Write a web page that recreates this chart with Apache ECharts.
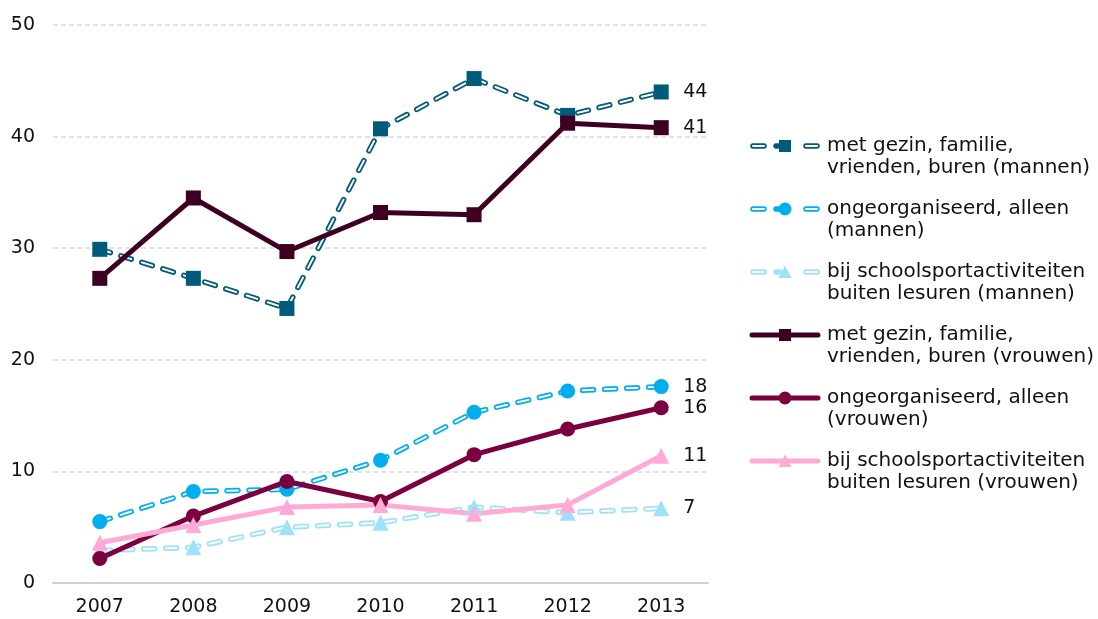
<!DOCTYPE html>
<html>
<head>
<meta charset="utf-8">
<script src="https://cdn.jsdelivr.net/npm/echarts@6/dist/echarts.min.js"></script>
<style>html,body{margin:0;padding:0;background:#fff}#c{width:1098px;height:619px}</style>
</head>
<body>
<div id="c"></div>
<script>
var years = ['2007','2008','2009','2010','2011','2012','2013'];
var yTicks = [0, 10, 20, 30, 40, 50];
var names = [
  'met gezin, familie,\nvrienden, buren (mannen)',
  'ongeorganiseerd, alleen\n(mannen)',
  'bij schoolsportactiviteiten\nbuiten lesuren (mannen)',
  'met gezin, familie,\nvrienden, buren (vrouwen)',
  'ongeorganiseerd, alleen\n(vrouwen)',
  'bij schoolsportactiviteiten\nbuiten lesuren (vrouwen)'
];
var gezinMannen   = [29.9, 27.3, 24.6, 40.7, 45.2, 41.9, 44.0];
var alleenMannen  = [5.5, 8.2, 8.4, 11.0, 15.3, 17.2, 17.6];
var schoolMannen  = [2.9, 3.2, 5.0, 5.4, 6.8, 6.3, 6.7];
var gezinVrouwen  = [27.3, 34.5, 29.7, 33.2, 33.0, 41.2, 40.8];
var alleenVrouwen = [2.2, 6.0, 9.1, 7.3, 11.5, 13.8, 15.7];
var schoolVrouwen = [3.6, 5.2, 6.8, 7.0, 6.2, 7.0, 11.4];

var colors = ['#005a7a', '#00aeef', '#9ee1fb', '#3d0022', '#7a003f', '#ffaad6'];
var symbols = ['rect', 'circle', 'triangle', 'rect', 'circle', 'triangle'];
var sizes = [15, 15, 16, 15, 15, 16];
var dataSets = [gezinMannen, alleenMannen, schoolMannen, gezinVrouwen, alleenVrouwen, schoolVrouwen];

var FONT = 'DejaVu Sans';
var DASH = [11, 11];
var endLabel = {
  show: true,
  distance: 22,
  fontFamily: FONT,
  fontSize: 19,
  color: '#111',
  formatter: function (p) { return String(Math.round(p.value)); }
};

function markerSvg(color, sym) {
  if (sym === 'rect') return '<rect x="30" y="2" width="12" height="12" fill="' + color + '"/>';
  if (sym === 'circle') return '<circle cx="36" cy="8" r="6.5" fill="' + color + '"/>';
  return '<polygon points="36,1.5 42.5,14 29.5,14" fill="' + color + '"/>';
}
function legendIcon(color, sym, dashed) {
  var body;
  if (dashed) {
    body = '<path d="M4 8H15M27 8H31M57 8H68" stroke="' + color + '" stroke-width="5.5" stroke-linecap="round" fill="none"/>' +
      '<path d="M4 8H15M57 8H68" stroke="#fff" stroke-width="2" stroke-linecap="round" fill="none"/>';
  } else {
    body = '<path d="M3 8H69" stroke="' + color + '" stroke-width="5" stroke-linecap="round" fill="none"/>';
  }
  var svg = '<svg xmlns="http://www.w3.org/2000/svg" width="72" height="16" viewBox="0 0 72 16">' +
    body + markerSvg(color, sym) + '</svg>';
  return 'image://data:image/svg+xml;charset=utf-8,' + encodeURIComponent(svg);
}

var series = [];
for (var i = 0; i < 6; i++) {
  var dashed = i < 3;
  if (dashed) {
    series.push({
      name: names[i], type: 'line', data: dataSets[i],
      symbol: 'none', color: colors[i],
      lineStyle: { color: colors[i], width: 5.5, type: DASH, cap: 'round' }
    });
    series.push({
      type: 'line', data: dataSets[i], symbol: 'none', silent: true,
      lineStyle: { color: '#fff', width: 2, type: DASH, cap: 'round' }
    });
    series.push({
      type: 'line', data: dataSets[i], symbol: symbols[i], symbolSize: sizes[i],
      showAllSymbol: true,
      itemStyle: { color: colors[i] }, lineStyle: { opacity: 0, width: 0 },
      endLabel: endLabel
    });
  } else {
    series.push({
      name: names[i], type: 'line', data: dataSets[i],
      symbol: symbols[i], symbolSize: sizes[i], showAllSymbol: true,
      color: colors[i], itemStyle: { color: colors[i] },
      lineStyle: { color: colors[i], width: 5, cap: 'round', join: 'round' },
      endLabel: endLabel
    });
  }
}

var legendData = names.map(function (n, i) {
  return { name: n, icon: legendIcon(colors[i], symbols[i], i < 3) };
});

var chart = echarts.init(document.getElementById('c'), null, { renderer: 'canvas' });
chart.setOption({
  animation: false,
  backgroundColor: '#fff',
  grid: { left: 53, right: 390, top: 25, bottom: 36 },
  legend: {
    orient: 'vertical',
    left: 743,
    top: 108,
    itemWidth: 74,
    itemHeight: 16,
    itemGap: -3,
    data: legendData,
    formatter: function (n) { return '\n' + n; },
    textStyle: { fontFamily: FONT, fontSize: 20, lineHeight: 22, color: '#111' }
  },
  xAxis: {
    type: 'category', data: years, boundaryGap: true,
    axisLine: { lineStyle: { color: '#cfcfcf', width: 2 } },
    axisTick: { show: false },
    axisLabel: { fontFamily: FONT, fontSize: 19, color: '#111', margin: 15 }
  },
  yAxis: {
    type: 'value', min: yTicks[0], max: yTicks[yTicks.length - 1], interval: 10,
    axisLine: { show: false }, axisTick: { show: false },
    axisLabel: { fontFamily: FONT, fontSize: 19, color: '#111', margin: 18 },
    splitLine: { lineStyle: { color: '#d9d9d9', width: 1.5, type: [5, 3] } }
  },
  series: series
});
</script>
</body>
</html>
